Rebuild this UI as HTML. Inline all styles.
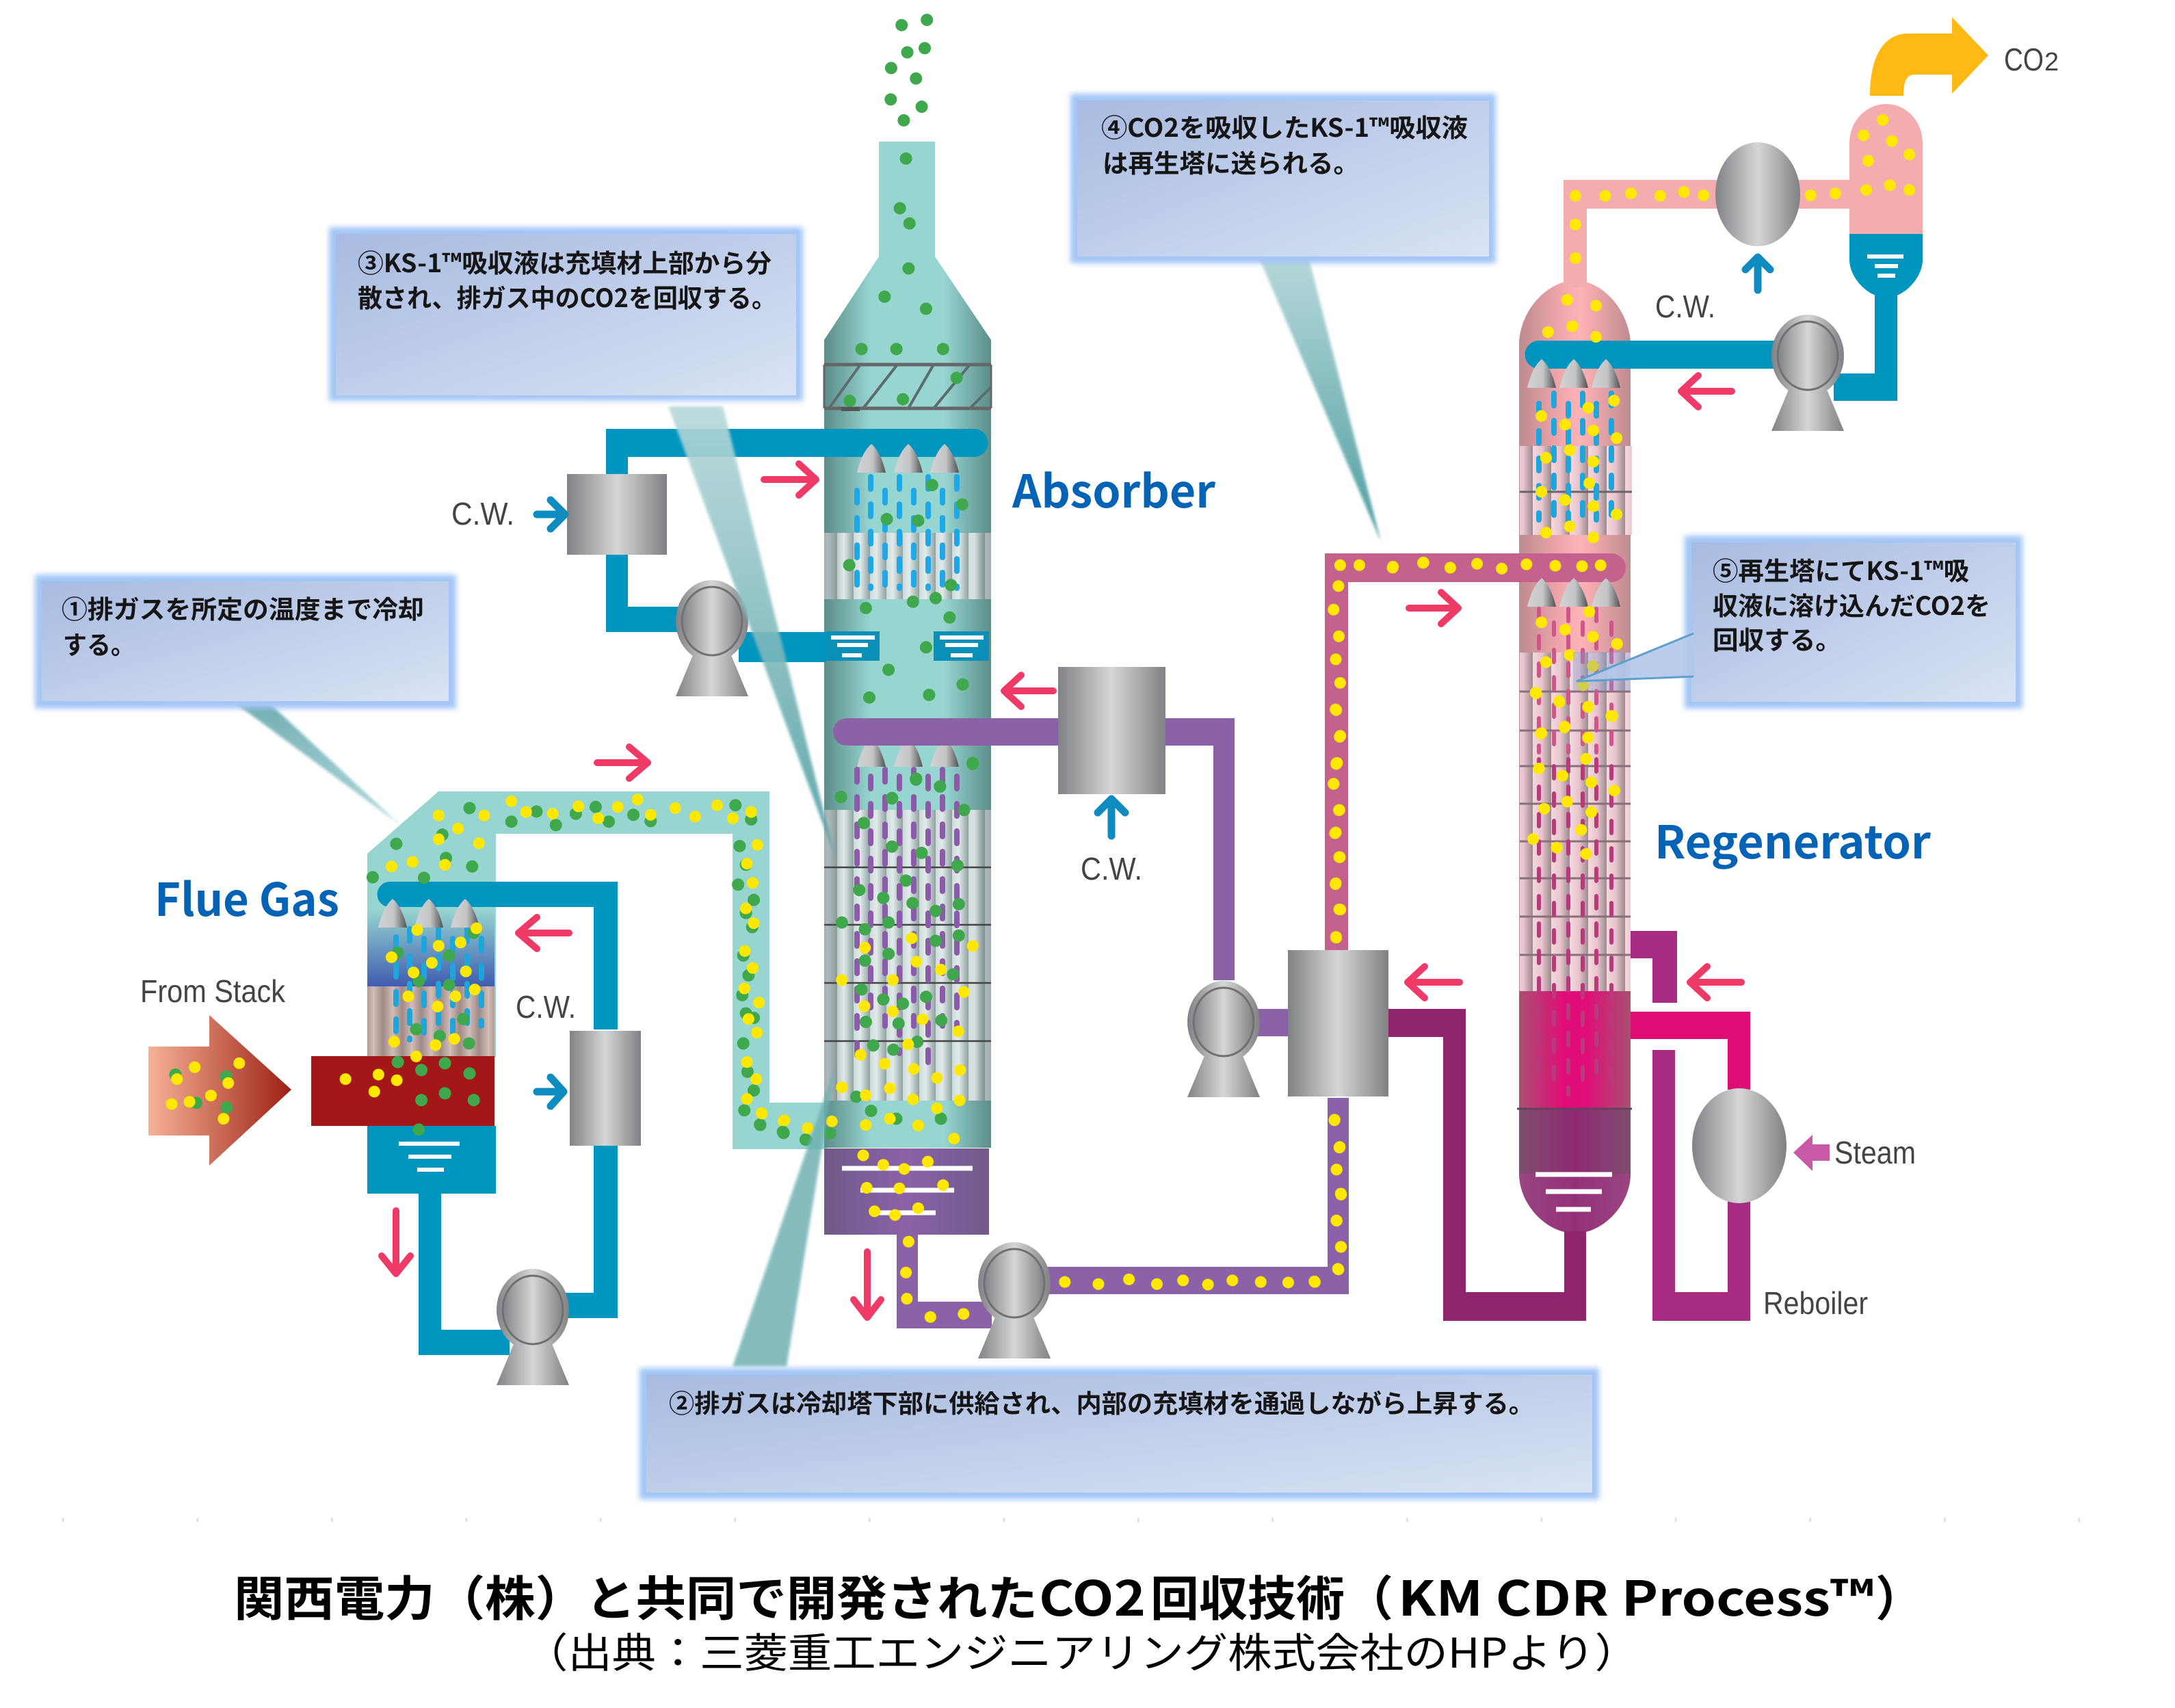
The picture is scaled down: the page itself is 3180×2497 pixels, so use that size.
<!DOCTYPE html>
<html lang="ja"><head><meta charset="utf-8"><title>KM CDR Process</title>
<style>
html,body{margin:0;padding:0;background:#fff}
svg{display:block}
.y,.g{fill:none;stroke-linecap:round;vector-effect:non-scaling-stroke}
.y{stroke:#ffe800;stroke-width:17}
.g{stroke:#3fa84d;stroke-width:18}
.t{font-family:"Noto Sans CJK JP","Liberation Sans",sans-serif;font-weight:700;fill:#151515;font-size:37px}
.l{font-family:"Noto Sans CJK JP","Liberation Sans",sans-serif;font-weight:700;fill:#0563b5;font-size:66px}
.n{font-family:"Liberation Sans","Noto Sans CJK JP",sans-serif;fill:#444;font-size:46px}
.c{font-family:"Noto Sans CJK JP","Liberation Sans",sans-serif;font-weight:700;font-size:70px;fill:#000}
.a{fill:none;stroke:#ef3a68;stroke-width:10;stroke-linecap:round;stroke-linejoin:round}
.b{fill:none;stroke:#0e8cc0;stroke-width:11;stroke-linecap:round;stroke-linejoin:round}
.w{stroke:#fff;stroke-width:6;fill:none}
.d{fill:none;stroke-width:8;stroke-linecap:round;stroke-dasharray:18 22}
</style></head><body>
<svg xmlns="http://www.w3.org/2000/svg" width="3180" height="2497" viewBox="0 0 3180 2497">
<defs>
<linearGradient id="metal"><stop offset="0" stop-color="#808285"/><stop offset=".5" stop-color="#d4d6d7"/><stop offset="1" stop-color="#7f8184"/></linearGradient>
<linearGradient id="cg"><stop offset="0" stop-color="#d2d3d4"/><stop offset=".55" stop-color="#c4c5c7"/><stop offset="1" stop-color="#4f5052"/></linearGradient>
<linearGradient id="ab"><stop offset="0" stop-color="#5c8d8a"/><stop offset=".28" stop-color="#96d5d0"/><stop offset=".72" stop-color="#96d5d0"/><stop offset="1" stop-color="#5c8d8a"/></linearGradient>
<linearGradient id="ed"><stop offset="0" stop-color="#5a6a6a" stop-opacity=".45"/><stop offset=".12" stop-color="#5a6a6a" stop-opacity="0"/><stop offset=".88" stop-color="#5a6a6a" stop-opacity="0"/><stop offset="1" stop-color="#5a6a6a" stop-opacity=".45"/></linearGradient>
<linearGradient id="re"><stop offset="0" stop-color="#bf8a90"/><stop offset=".35" stop-color="#eda5aa"/><stop offset=".55" stop-color="#ffb3b6"/><stop offset="1" stop-color="#bf8b90"/></linearGradient>
<linearGradient id="mg"><stop offset="0" stop-color="#a85070"/><stop offset=".4" stop-color="#e00d78"/><stop offset=".6" stop-color="#e00d78"/><stop offset="1" stop-color="#a85070"/></linearGradient>
<linearGradient id="sm"><stop offset="0" stop-color="#7d4d70"/><stop offset=".5" stop-color="#8f2a72"/><stop offset="1" stop-color="#7d4d70"/></linearGradient>
<linearGradient id="bw"><stop offset="0" stop-color="#9a4580"/><stop offset=".5" stop-color="#93307a"/><stop offset="1" stop-color="#9a4580"/></linearGradient>
<linearGradient id="pu"><stop offset="0" stop-color="#70598a"/><stop offset=".5" stop-color="#8b62a8"/><stop offset="1" stop-color="#70598a"/></linearGradient>
<linearGradient id="st"><stop offset="0" stop-color="#f6b297"/><stop offset="1" stop-color="#9c2015"/></linearGradient>
<linearGradient id="co" x1="0" y1="0" x2="0" y2="1"><stop offset="0" stop-color="#96d5d0"/><stop offset="1" stop-color="#3f5cb0"/></linearGradient>
<linearGradient id="box" x1="0" y1="0" x2="1" y2="1"><stop offset="0" stop-color="#a7bae0"/><stop offset="1" stop-color="#d9e3f4"/></linearGradient>
<linearGradient id="lf" x1="0" y1="0" x2="0" y2="1"><stop offset="0" stop-color="#b7d8da"/><stop offset="1" stop-color="#4f9ea2"/></linearGradient>
<linearGradient id="l1" x1="0" y1="0" x2="0" y2="1"><stop offset="0" stop-color="#5a9fa8"/><stop offset="1" stop-color="#a5d4d6"/></linearGradient>
<linearGradient id="st1"><stop offset="0" stop-color="#cfdcdc"/><stop offset=".4" stop-color="#e2eaea"/><stop offset="1" stop-color="#8fa0a0"/></linearGradient>
<linearGradient id="st2"><stop offset="0" stop-color="#f5d8de"/><stop offset=".5" stop-color="#e8c4cc"/><stop offset="1" stop-color="#9a8a8e"/></linearGradient>
<linearGradient id="st3"><stop offset="0" stop-color="#a08a88"/><stop offset=".5" stop-color="#d2bcb8"/><stop offset="1" stop-color="#a08a88"/></linearGradient>
<pattern id="p1" patternUnits="userSpaceOnUse" width="24" height="400"><rect width="24" height="400" fill="url(#st1)"/></pattern>
<pattern id="p2" patternUnits="userSpaceOnUse" width="27" height="400"><rect width="27" height="400" fill="url(#st2)"/></pattern>
<pattern id="p3" patternUnits="userSpaceOnUse" width="28" height="400"><rect width="28" height="400" fill="url(#st3)"/></pattern>
<path id="cone" d="M-21 42Q-14 12 0 0Q14 12 21 42Z" fill="url(#cg)"/>
<g id="pump"><path d="M-24 40L-53 110H53L24 40Z" fill="url(#metal)"/><ellipse rx="53" ry="60" fill="url(#metal)"/><ellipse rx="44" ry="50" fill="url(#metal)" stroke="#6e7073" stroke-width="3"/></g>
<filter id="bl" x="-10%" y="-10%" width="120%" height="120%"><feGaussianBlur stdDeviation="4"/></filter>
<filter id="bl2" x="-30%" y="-5%" width="160%" height="110%"><feGaussianBlur stdDeviation="2"/></filter>
</defs>

<!-- Cooler / flue duct -->
<path d="M641 1157H1125V1612H1210V1680H1071V1219H725V1546H537V1248Z" fill="#96d5d0"/>
<rect x="537" y="1330" width="186" height="112" fill="url(#co)"/>
<rect x="537" y="1442" width="186" height="104" fill="url(#p3)"/>
<path class="d" d="M579 1370V1520M599 1358V1520M620 1372V1520M641 1358V1520M662 1372V1520M683 1358V1500M704 1372V1500" stroke="#1ea5dc" stroke-width="6"/>
<rect x="455" y="1544" width="268" height="102" fill="#a31719"/>
<rect x="537" y="1646" width="188" height="99" fill="#0095bf"/>
<path class="w" d="M583 1672H672M597 1691H660M610 1710H649"/>
<path d="M217 1530H306V1484L426 1593L306 1704V1660H217Z" fill="url(#st)"/>
<path d="M570 1289H903V1505H868V1326H570A18.500 18.500 0 0 1 570 1289Z" fill="#0095bf"/>
<path d="M868 1675H903V1927H820V1890H868Z" fill="#0095bf"/>
<path d="M612 1745H645V1944H745V1981H612Z" fill="#0095bf"/>
<use href="#cone" x="574" y="1314"/><use href="#cone" x="627" y="1314"/><use href="#cone" x="680" y="1314"/>
<rect x="833" y="1507" width="104" height="168" fill="url(#metal)"/>
<use href="#pump" x="779" y="1915"/>

<!-- Absorber -->
<path d="M1285 207H1367V375L1449 497V1678H1205V497L1285 375Z" fill="url(#ab)"/>
<path d="M1205 533H1449M1205 597H1449" stroke="#666" stroke-width="5"/>
<path d="M1205 533V597M1449 533V597" stroke="#666" stroke-width="3"/>
<rect x="1230" y="595" width="27" height="6" fill="#555"/>
<path d="M1212 597L1258 533M1262 597L1312 533M1328 597L1365 533M1365 597L1418 533M1418 597L1449 566" stroke="#5c6c6c" stroke-width="4" fill="none"/>
<rect x="1205" y="779" width="244" height="97" fill="url(#p1)"/>
<rect x="1205" y="1184" width="244" height="425" fill="url(#p1)"/>
<rect x="1205" y="779" width="244" height="97" fill="url(#ed)"/>
<rect x="1205" y="1184" width="244" height="425" fill="url(#ed)"/>
<path d="M1205 1268H1449M1205 1352H1449M1205 1437H1449M1205 1522H1449" stroke="#444" stroke-width="2.500"/>
<path class="d" d="M1253 717V860M1273 697V860M1294 717V860M1315 697V860M1336 717V860M1357 697V860M1378 717V860M1399 697V860" stroke="#1fa8e8"/>
<path class="d" d="M1253 1125V1560M1273 1135V1480M1294 1125V1500M1315 1135V1540M1336 1125V1500M1357 1135V1560M1378 1125V1500M1399 1135V1500" stroke="#8b5aa8"/>
<path d="M886 627H1424A20.500 20.500 0 0 1 1424 668H918V887H1020V924H886Z" fill="#0095bf"/>
<rect x="1080" y="924" width="128" height="44" fill="#0095bf"/>
<rect x="1208" y="923" width="78" height="43" fill="#0a8fb8"/><rect x="1365" y="923" width="81" height="43" fill="#0a8fb8"/>
<path class="w" d="M1215 932H1279M1224 943H1269M1231 958H1260M1374 932H1438M1382 943H1430M1390 958H1422" stroke-width="5" stroke="#e6f2f6"/>
<use href="#cone" x="1274" y="649"/><use href="#cone" x="1328" y="649"/><use href="#cone" x="1381" y="649"/>
<use href="#cone" x="1274" y="1079"/><use href="#cone" x="1328" y="1079"/><use href="#cone" x="1381" y="1079"/>
<rect x="829" y="693" width="146" height="118" fill="url(#metal)"/>
<use href="#pump" x="1041" y="908"/>
<path d="M1238 1050H1805V1433H1774V1090H1238A20 20 0 0 1 1238 1050Z" fill="#8b62a8"/>
<rect x="1547" y="975" width="157" height="186" fill="url(#metal)"/>
<rect x="1205" y="1679" width="241" height="126" fill="url(#pu)"/>
<path d="M1231 1708H1422M1258 1740H1395M1272 1773H1368" stroke="#fff" stroke-width="7" fill="none"/>
<path d="M1311 1805H1342V1903H1450V1942H1311ZM1500 1852H1941V1605H1972V1892H1500Z" fill="#8b62a8"/>
<use href="#pump" x="1483" y="1876"/>
<path d="M1800 1475H1890V1515H1800Z" fill="#8b62a8"/>
<use href="#pump" x="1789" y="1494"/>

<!-- Regenerator -->
<path d="M2221 500C2224 450 2265 410 2303 410C2341 410 2380 450 2384 500V1621H2221Z" fill="url(#re)"/>
<rect x="2222" y="652" width="164" height="130" fill="url(#p2)"/>
<path d="M2222 719H2386" stroke="#666" stroke-width="3"/>
<rect x="2222" y="954" width="162" height="495" fill="url(#p2)"/>
<path d="M2222 1011H2384M2222 1068H2384M2222 1120H2384M2222 1175H2384M2222 1230H2384M2222 1284H2384M2222 1340H2384M2222 1396H2384" stroke="#88707a" stroke-width="3"/>
<rect x="2221" y="1449" width="163" height="172" fill="url(#mg)"/>
<rect x="2221" y="1621" width="163" height="95" fill="url(#sm)"/>
<path d="M2221 1716H2384C2384 1760 2345 1803 2303 1803C2260 1803 2221 1760 2221 1716Z" fill="url(#bw)"/>
<path d="M2218 1621H2386" stroke="#66405f" stroke-width="3"/>
<path d="M2245 1717H2357M2260 1742H2342M2275 1768H2326" stroke="#fff" stroke-width="7" fill="none"/>
<path class="d" d="M2250 590V760M2272 575V770M2293 590V780M2314 575V770M2334 590V760M2356 575V770" stroke="#1ea5dc"/>
<path class="d" d="M2250 890V1100M2272 910V1100M2293 890V1100M2314 910V1100M2334 890V1100M2356 910V1100" stroke="#d0558a" style="stroke-width:6"/>
<path class="d" d="M2250 1110V1590M2272 1120V1590M2293 1110V1600M2314 1120V1590M2334 1110V1590M2356 1120V1590" stroke="#b83a7a" style="stroke-width:6"/>
<path d="M1937 809H2356A21 21 0 0 1 2356 851H1971V1400H1937Z" fill="#c5618d"/>
<path d="M2250 498H2594V539H2250A20.500 20.500 0 0 1 2250 498Z" fill="#0095bf"/>
<path d="M2681 546H2741V420H2774V586H2681Z" fill="#0095bf"/>
<use href="#cone" x="2254" y="525"/><use href="#cone" x="2301" y="525"/><use href="#cone" x="2348" y="525"/>
<use href="#cone" x="2254" y="845"/><use href="#cone" x="2301" y="845"/><use href="#cone" x="2348" y="845"/>
<use href="#pump" x="2643" y="520"/>
<path d="M2286 263H2704V305H2320V420H2286Z" fill="#f4adaf"/>
<path d="M2704 210C2704 175 2730 152 2758 152C2785 152 2811 175 2811 210V342H2704Z" fill="#f4adaf"/>
<path d="M2704 342H2811V380C2811 405 2785 435 2758 435C2730 435 2704 405 2704 380Z" fill="#0095bf"/>
<path class="w" d="M2730 375H2783M2741 389H2775M2745 403H2771"/>
<ellipse cx="2570" cy="284" rx="62" ry="76" fill="url(#metal)"/>
<path d="M2734 140C2734 90 2750 49 2790 49H2854V25L2907 81L2854 137V109H2800C2788 109 2783 118 2783 140Z" fill="#fdb813"/>
<rect x="1883" y="1389" width="147" height="214" fill="url(#metal)"/>
<path d="M2030 1475H2143V1889H2287V1800H2319V1931H2110V1516H2030Z" fill="#90246e"/>
<path d="M2384 1361H2452V1466H2416V1401H2384Z" fill="#a62b81"/>
<path d="M2384 1479H2559V1593H2526V1519H2384Z" fill="#dd0d75"/>
<path d="M2416 1535H2449V1889H2526V1740H2559V1931H2416Z" fill="#a62b81"/>
<ellipse cx="2543" cy="1675" rx="69" ry="84" fill="url(#metal)"/>
<path d="M2622 1685L2650 1659V1673H2675V1697H2650V1712Z" fill="#c95aa8"/>

<!-- Green & yellow dots -->
<g transform="translate(0,800) scale(.7653,.829)">
<path class="g" d="M897 460h.1M845 507h.1M757 523h.1M852 548h.1M902 563h.1M712 582h.1M810 583h.1M977 484h.1M1025 466h.1M1062 490h.1M1100 470h.1M1138 458h.1M1163 484h.1M1210 472h.1M1243 483h.1M1405 455h.1M1435 480h.1M1413 527h.1M1425 560h.1M1410 595h.1M1440 622h.1M1425 645h.1M1437 670h.1M1420 720h.1M1430 755h.1M1418 790h.1M1425 822h.1M1440 830h.1M1420 875h.1M1428 925h.1M1440 958h.1M1422 993h.1M1452 1018h.1M1497 1033h.1M1540 1045h.1M905 680h.1M760 715h.1M858 720h.1M800 765h.1M858 772h.1M885 832h.1M795 850h.1M840 862h.1M896 875h.1M760 908h.1M805 922h.1M850 910h.1M897 928h.1M805 975h.1M850 963h.1M905 975h.1M800 1027h.1M335 930h.1M432 933h.1M375 980h.1M433 988h.1"/>
<path class="y" d="M838 473h.1M925 473h.1M875 496h.1M838 515h.1M915 522h.1M748 563h.1M788 555h.1M850 560h.1M977 448h.1M1005 467h.1M1056 470h.1M1105 457h.1M1143 478h.1M1180 458h.1M1218 445h.1M1243 472h.1M1290 460h.1M1328 475h.1M1370 455h.1M1400 478h.1M1435 467h.1M1447 525h.1M1427 558h.1M1438 592h.1M1425 637h.1M1440 663h.1M1423 712h.1M1438 742h.1M1422 778h.1M1450 803h.1M1430 832h.1M1446 856h.1M1427 908h.1M1445 938h.1M1427 973h.1M1455 998h.1M1497 1012h.1M1543 1025h.1M797 675h.1M910 672h.1M838 703h.1M880 697h.1M748 723h.1M825 733h.1M790 750h.1M890 748h.1M907 780h.1M780 792h.1M870 792h.1M836 810h.1M753 872h.1M832 878h.1M868 867h.1M795 898h.1M660 938h.1M723 930h.1M715 960h.1M758 940h.1M372 917h.1M457 910h.1M338 938h.1M436 945h.1M328 982h.1M362 978h.1M403 967h.1M427 1008h.1"/>
</g>
<g transform="translate(1100,0) scale(.638,.765)">
<path class="g" d="M342 48h.1M400 38h.1M355 100h.1M395 92h.1M318 130h.1M375 150h.1M317 190h.1M388 204h.1M347 230h.1M352 303h.1M338 398h.1M360 427h.1M358 513h.1M303 567h.1M398 590h.1M250 667h.1M330 667h.1M437 667h.1M468 722h.1M223 766h.1M345 763h.1M412 927h.1M481 964h.1M308 992h.1M380 995h.1M222 1080h.1M455 1118h.1M368 1150h.1M420 1143h.1M260 1162h.1M452 1180h.1M398 1237h.1M312 1280h.1M482 1308h.1M268 1333h.1M405 1328h.1M505 1460h.1M375 1488h.1M430 1503h.1M203 1523h.1M320 1525h.1M485 1548h.1"/>
<path class="y" d="M1347 1080h.1M1391 1080h.1M1468 1083h.1M1538 1075h.1M1343 1120h.1M1332 1165h.1M1344 1216h.1M1337 1260h.1M1347 1305h.1M1338 1357h.1M1346 1408h.1M1338 1460h.1M1332 1498h.1M1345 1548h.1"/>
</g>
<g transform="translate(1100,1100) scale(.638,.765)">
<path class="g" d="M505 20h.1M375 52h.1M430 65h.1M203 85h.1M320 88h.1M485 110h.1M255 135h.1M320 180h.1M388 192h.1M470 216h.1M352 245h.1M245 263h.1M300 278h.1M367 288h.1M473 290h.1M420 303h.1M205 325h.1M258 338h.1M312 325h.1M420 360h.1M473 350h.1M312 385h.1M258 398h.1M460 424h.1M250 453h.1M300 472h.1M398 467h.1M345 480h.1M260 515h.1M335 518h.1M433 512h.1M277 560h.1M323 568h.1M378 553h.1M238 658h.1M272 685h.1M330 700h.1M432 700h.1M18 712h.1M70 725h.1M122 740h.1M178 728h.1"/>
<path class="y" d="M258 373h.1M365 355h.1M376 400h.1M432 415h.1M505 370h.1M205 435h.1M322 435h.1M485 458h.1M257 485h.1M322 495h.1M390 510h.1M472 533h.1M248 578h.1M357 558h.1M303 595h.1M370 605h.1M476 607h.1M423 622h.1M205 640h.1M260 655h.1M315 642h.1M368 663h.1M475 665h.1M423 680h.1M22 690h.1M73 703h.1M127 718h.1M182 705h.1M260 712h.1M315 700h.1M380 713h.1M462 738h.1M254 770h.1M300 788h.1M348 796h.1M402 782h.1M262 832h.1M337 833h.1M437 827h.1M280 877h.1M327 884h.1M380 871h.1M358 935h.1M352 994h.1M354 1044h.1M408 1079h.1M484 1073h.1M716 1012h.1M793 1016h.1M863 1007h.1M927 1016h.1M987 1009h.1M1044 1017h.1M1100 1009h.1M1165 1012h.1M1228 1013h.1M1289 1012h.1M1342 987h.1M1349 945h.1M1339 895h.1M1349 845h.1M1339 797h.1M1346 754h.1M1334 703h.1M1338 354h.1M1345 300h.1M1337 250h.1M1345 200h.1M1337 153h.1M1345 110h.1M1332 60h.1M1340 20h.1"/>
</g>
<g transform="translate(2000,0) scale(.7526,.7015)">
<path class="y" d="M403 408h.1M461 408h.1M511 403h.1M568 408h.1M614 400h.1M652 407h.1M860 407h.1M908 403h.1M968 396h.1M1014 386h.1M1052 396h.1M972 335h.1M1052 322h.1M1018 294h.1M963 282h.1M1000 250h.1M403 468h.1M403 538h.1M387 625h.1M443 637h.1M397 680h.1M350 692h.1M443 702h.1M478 835h.1M337 867h.1M428 850h.1M383 885h.1M438 897h.1M483 913h.1M392 938h.1M346 954h.1M438 962h.1M337 1025h.1M430 1007h.1M383 1042h.1M438 1055h.1M483 1072h.1M392 1097h.1M346 1110h.1M438 1120h.1M48 1183h.1M107 1173h.1M160 1183h.1M212 1175h.1M260 1185h.1M308 1176h.1M364 1179h.1M416 1180h.1M452 1178h.1M430 1275h.1M337 1297h.1M383 1312h.1M437 1327h.1M484 1342h.1M392 1365h.1M346 1380h.1M437 1388h.1M418 1428h.1M327 1445h.1M372 1463h.1M428 1473h.1M473 1492h.1M337 1528h.1M382 1516h.1M428 1537h.1"/>
</g>
<g transform="translate(1900,1000) scale(.7015,.7015)">
<path class="y" d="M492 18h.1M541 36h.1M601 48h.1M652 67h.1M503 103h.1M553 89h.1M601 112h.1M597 156h.1M499 176h.1M548 191h.1M608 205h.1M656 222h.1M558 245h.1M510 260h.1M608 267h.1M587 304h.1M487 323h.1M536 341h.1M597 354h.1M75 53h.1M85 108h.1M77 165h.1M71 208h.1M82 263h.1M74 311h.1M84 361h.1M75 417h.1M85 470h.1M76 527h.1M73 908h.1M83 966h.1M77 1012h.1M86 1062h.1M77 1118h.1M86 1173h.1M81 1220h.1M31 1245h.1"/>
</g>

<!-- Arrows -->
<path class="a" d="M873 1115H947M920 1092L947 1115L920 1138"/>
<path class="a" d="M832 1364H758M785 1341L758 1364L785 1387"/>
<path class="a" d="M579 1770V1862M558 1836L579 1862L600 1836"/>
<path class="a" d="M1117 701H1193M1168 678L1193 701L1168 724"/>
<path class="a" d="M1540 1010H1468M1493 987L1468 1010L1493 1033"/>
<path class="a" d="M1268 1830V1926M1248 1900L1268 1926L1288 1900"/>
<path class="a" d="M2060 889H2132M2107 866L2132 889L2107 912"/>
<path class="a" d="M2532 572H2458M2483 549L2458 572L2483 595"/>
<path class="a" d="M2134 1436H2058M2083 1413L2058 1436L2083 1459"/>
<path class="a" d="M2546 1436H2471M2496 1413L2471 1436L2496 1459"/>
<path class="b" d="M785 1596H824M805 1575L824 1596L805 1617"/>
<path class="b" d="M785 752H826M805 731L826 752L805 773"/>
<path class="b" d="M1625 1222V1168M1605 1188L1625 1168L1645 1188"/>
<path class="b" d="M2570 424V376M2552 394L2570 376L2588 394"/>

<!-- Leaders -->
<path d="M344 1028H394L585 1206Z" fill="url(#l1)" opacity=".85" filter="url(#bl2)"/>
<path d="M977 594H1057L1221 1253Z" fill="url(#lf)" opacity=".9" filter="url(#bl2)"/>
<path d="M1071 1998H1150L1221 1559Z" fill="#6fb0b2" opacity=".85" filter="url(#bl2)"/>
<path d="M1840 375H1913L2019 792Z" fill="url(#lf)" filter="url(#bl2)"/>
<rect x="2300" y="953" width="84" height="57" fill="#7f9fd8" opacity=".35"/>

<!-- Callouts -->
<rect x="51" y="840" width="616" height="196" fill="#a3c6f5" filter="url(#bl)"/><rect x="61" y="850" width="595" height="175" fill="url(#box)"/>
<rect x="481" y="332" width="693" height="254" fill="#a3c6f5" filter="url(#bl)"/><rect x="491" y="342" width="673" height="236" fill="url(#box)"/>
<rect x="935" y="2000" width="1403" height="192" fill="#a3c6f5" filter="url(#bl)"/><rect x="945" y="2010" width="1383" height="172" fill="url(#box)"/>
<rect x="1565" y="137" width="622" height="248" fill="#a3c6f5" filter="url(#bl)"/><rect x="1575" y="147" width="602" height="228" fill="url(#box)"/>
<rect x="2463" y="783" width="494" height="253" fill="#a3c6f5" filter="url(#bl)"/><rect x="2473" y="793" width="474" height="233" fill="url(#box)"/>
<path d="M2478 926V989L2305 996Z" fill="#b3c8ea" opacity=".9"/>
<path d="M2476 926L2305 996L2476 989" fill="none" stroke="#5f9fcc" stroke-width="3"/>

<!-- Callout text -->
<text class="t" x="90" y="904" textLength="530" lengthAdjust="spacingAndGlyphs">①排ガスを所定の温度まで冷却</text>
<text class="t" x="92" y="956" textLength="105" lengthAdjust="spacingAndGlyphs">する。</text>
<text class="t" x="523" y="398" textLength="605" lengthAdjust="spacingAndGlyphs">③KS-1™吸収液は充填材上部から分</text>
<text class="t" x="523" y="449" textLength="612" lengthAdjust="spacingAndGlyphs">散され、排ガス中のCO2を回収する。</text>
<text class="t" x="978" y="2065" textLength="1265" lengthAdjust="spacingAndGlyphs">②排ガスは冷却塔下部に供給され、内部の充填材を通過しながら上昇する。</text>
<text class="t" x="1610" y="200" textLength="536" lengthAdjust="spacingAndGlyphs">④CO2を吸収したKS-1™吸収液</text>
<text class="t" x="1612" y="252" textLength="375" lengthAdjust="spacingAndGlyphs">は再生塔に送られる。</text>
<text class="t" x="2504" y="848" textLength="375" lengthAdjust="spacingAndGlyphs">⑤再生塔にてKS-1™吸</text>
<text class="t" x="2504" y="899" textLength="406" lengthAdjust="spacingAndGlyphs">収液に溶け込んだCO2を</text>
<text class="t" x="2504" y="949" textLength="188" lengthAdjust="spacingAndGlyphs">回収する。</text>

<!-- Labels -->
<text class="l" x="226" y="1339" textLength="270" lengthAdjust="spacingAndGlyphs">Flue Gas</text>
<text class="l" x="1480" y="742" textLength="297" lengthAdjust="spacingAndGlyphs">Absorber</text>
<text class="l" x="2419" y="1255" textLength="404" lengthAdjust="spacingAndGlyphs">Regenerator</text>
<text class="n" x="205" y="1465" textLength="212" lengthAdjust="spacingAndGlyphs">From Stack</text>
<text class="n" x="754" y="1488" textLength="88" lengthAdjust="spacingAndGlyphs">C.W.</text>
<text class="n" x="660" y="767" textLength="92" lengthAdjust="spacingAndGlyphs">C.W.</text>
<text class="n" x="1580" y="1286" textLength="90" lengthAdjust="spacingAndGlyphs">C.W.</text>
<text class="n" x="2420" y="464" textLength="88" lengthAdjust="spacingAndGlyphs">C.W.</text>
<text class="n" x="2682" y="1701" textLength="119" lengthAdjust="spacingAndGlyphs">Steam</text>
<text class="n" x="2578" y="1921" textLength="153" lengthAdjust="spacingAndGlyphs">Reboiler</text>
<text class="n" x="2930" y="103" textLength="58" lengthAdjust="spacingAndGlyphs">CO</text>
<text class="n" x="2989" y="103" style="font-size:38px">2</text>

<!-- Separator ticks -->
<line x1="91" y1="2222" x2="3060" y2="2222" stroke="#ddd" stroke-width="6" stroke-dasharray="2.500 194"/>

<!-- Caption -->
<text class="c" x="342" y="2362" textLength="1175" lengthAdjust="spacingAndGlyphs">関西電力（株）と共同で開発された</text>
<text class="c" x="1519" y="2362" textLength="156" lengthAdjust="spacingAndGlyphs">CO2</text>
<text class="c" x="1682" y="2362" textLength="355" lengthAdjust="spacingAndGlyphs">回収技術（</text>
<text class="c" x="2044" y="2362" textLength="632" lengthAdjust="spacingAndGlyphs">KM CDR Process</text>
<text class="c" x="2676" y="2362" textLength="64" lengthAdjust="spacingAndGlyphs">™</text>
<text class="c" x="2742" y="2362" textLength="70" lengthAdjust="spacingAndGlyphs">）</text>
<text x="766" y="2438" textLength="1630" lengthAdjust="spacingAndGlyphs" style="font-family:'Noto Sans CJK JP','Liberation Sans',sans-serif;font-size:60px;fill:#000">（出典：三菱重工エンジニアリング株式会社のHPより）</text>
</svg>
</body></html>
